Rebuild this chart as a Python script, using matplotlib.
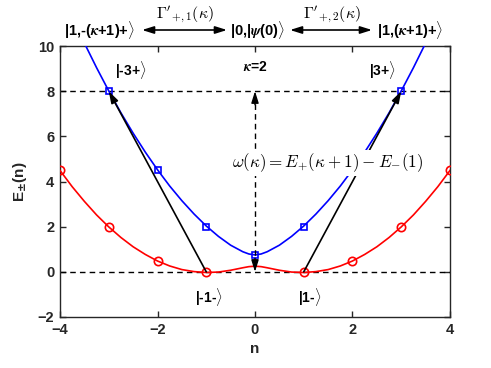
import matplotlib
matplotlib.use("Agg")
import matplotlib.pyplot as plt
from matplotlib.patches import FancyArrowPatch

# ---- data ----
n_curve = [-4, -3.75, -3.5, -3.25, -3, -2.75, -2.5, -2.25, -2, -1.75, -1.5, -1.25, -1,
           -0.75, -0.5, -0.25, -0.125, 0, 0.125, 0.25, 0.5, 0.75, 1, 1.25, 1.5, 1.75,
           2, 2.25, 2.5, 2.75, 3, 3.25, 3.5, 3.75, 4]
E_minus_curve = [4.49, 3.77, 3.12, 2.52, 1.99, 1.52, 1.11, 0.77, 0.48, 0.26, 0.10, 0.01, -0.03,
                 -0.01, 0.07, 0.18, 0.23, 0.25, 0.23, 0.18, 0.07, -0.01, -0.03, 0.01, 0.10, 0.26,
                 0.48, 0.77, 1.11, 1.52, 1.99, 2.52, 3.12, 3.77, 4.49]
E_plus_curve = [12.51, 11.29, 10.13, 9.04, 8.01, 7.04, 6.14, 5.30, 4.52, 3.80, 3.15, 2.56, 2.03,
                1.57, 1.18, 0.89, 0.79, 0.75, 0.79, 0.89, 1.18, 1.57, 2.03, 2.56, 3.15, 3.80,
                4.52, 5.30, 6.14, 7.04, 8.01, 9.04, 10.13, 11.29, 12.51]

red_n = [-4, -3, -2, -1, 1, 2, 3, 4]
red_E = [4.5, 2, 0.5, 0, 0, 0.5, 2, 4.5]
blue_n = [-3, -2, -1, 0, 1, 2, 3]
blue_E = [8, 4.5, 2, 0.75, 2, 4.5, 8]

hlines_y = [8, 0]
trans_start = [(-1, 0), (1, 0)]
trans_end = [(-3, 8), (3, 8)]
vert_arrow = (0, 0, 8)

x_ticks = [-4, -2, 0, 2, 4]
y_ticks = [-2, 0, 2, 4, 6, 8, 10]

state_labels = [(-2.55, 8.95, r'|-3+$\rangle$'), (2.62, 8.95, r'|3+$\rangle$'),
                (-0.95, -1.1, r'|-1-$\rangle$'), (1.12, -1.1, r'|1-$\rangle$'),
                (0.0, 9.05, r'$\boldsymbol{\kappa}$=2')]

plt.rcParams['font.family'] = ['Liberation Sans', 'DejaVu Sans']
plt.rcParams['font.weight'] = 'bold'

W, H = 491, 368
fig = plt.figure(figsize=(W / 100, H / 100), dpi=100)
ax = fig.add_axes([60 / W, 1 - 317 / H, 390 / W, 271 / H])

dark = '#262626'
for y in hlines_y:
    ax.plot([-4, 4], [y, y], color='k', ls=(0, (4, 3)), lw=1.0, zorder=2)

ax.plot(n_curve, E_minus_curve, color='red', lw=1.2, zorder=3)
ax.plot(red_n, red_E, ls='none', marker='o', ms=6, mfc='none', mec='red', mew=1.2, zorder=4)
ax.plot(n_curve, E_plus_curve, color='blue', lw=1.2, zorder=3)
ax.plot(blue_n, blue_E, ls='none', marker='s', ms=5, mfc='none', mec='blue', mew=1.2, zorder=4)

head = '-|>,head_length=0.7,head_width=0.22'
for s, e in zip(trans_start, trans_end):
    ax.annotate('', xy=e, xytext=s,
                arrowprops=dict(arrowstyle=head, color='k', lw=1.2, shrinkA=0, shrinkB=0),
                zorder=5)

vx, v0, v1 = vert_arrow
ax.plot([vx, vx], [v0 + 0.3, v1 - 0.3], color='k', ls=(0, (4, 3)), lw=1.0, zorder=5)
ax.annotate('', xy=(vx, v1), xytext=(vx, v1 - 0.6),
            arrowprops=dict(arrowstyle=head, color='k', lw=1.0, shrinkA=0, shrinkB=0), zorder=5)
ax.annotate('', xy=(vx, v0), xytext=(vx, v0 + 0.6),
            arrowprops=dict(arrowstyle=head, color='k', lw=1.0, shrinkA=0, shrinkB=0), zorder=5)

ax.text(-0.47, 4.82, r'$\omega(\kappa) = E_{+}(\kappa+1) - E_{-}(1)$', math_fontfamily='cm',
        fontsize=12.3, ha='left', va='center', zorder=6,
        bbox=dict(facecolor='white', edgecolor='none', pad=1.5))

for x, y, s in state_labels:
    ax.text(x, y, s, fontsize=10, fontweight='bold', ha='center', va='center', zorder=6,
            math_fontfamily='cm')

ax.set_xlim(-4, 4)
ax.set_ylim(-2, 10)
ax.set_xticks(x_ticks)
ax.set_yticks(y_ticks)
ax.tick_params(direction='in', length=4, width=1.0, top=True, right=True,
               labelsize=10.5, colors=dark, pad=4)
for lab in ax.get_xticklabels() + ax.get_yticklabels():
    lab.set_fontweight('bold')
for sp in ax.spines.values():
    sp.set_color(dark)
    sp.set_linewidth(1.0)
ax.set_xlabel('n', fontsize=11, fontweight='bold', color=dark, labelpad=4)
ax.set_ylabel(r'E$_{\pm}$(n)', fontsize=11, fontweight='bold', color=dark, labelpad=6)

# top row: states and couplings
def fx(px):
    return px / W

def fy(py):
    return 1 - py / H

top_kw = dict(fontsize=10.5, fontweight='bold', ha='center', va='center', math_fontfamily='cm')
fig.text(fx(99), fy(30), r'|1,-($\boldsymbol{\kappa}$+1)+$\rangle$', **top_kw)
fig.text(fx(258), fy(30), r'|0,|$\boldsymbol{\psi}$(0)$\rangle$', **top_kw)
fig.text(fx(410), fy(30), r'|1,($\boldsymbol{\kappa}$+1)+$\rangle$', **top_kw)
for a, b in [(142, 227), (290, 372)]:
    fig.patches.append(FancyArrowPatch(
        (fx(a), fy(30)), (fx(b), fy(30)), transform=fig.transFigure,
        arrowstyle='<|-|>,head_length=0.7,head_width=0.22', mutation_scale=10,
        color='k', lw=1.2, shrinkA=0, shrinkB=0))
fig.text(fx(185), fy(14), r"$\Gamma'_{+,1}(\kappa)$", math_fontfamily='cm', fontsize=11.5,
         ha='center', va='center')
fig.text(fx(332), fy(14), r"$\Gamma'_{+,2}(\kappa)$", math_fontfamily='cm', fontsize=11.5,
         ha='center', va='center')

fig.savefig('out.png', dpi=100)
